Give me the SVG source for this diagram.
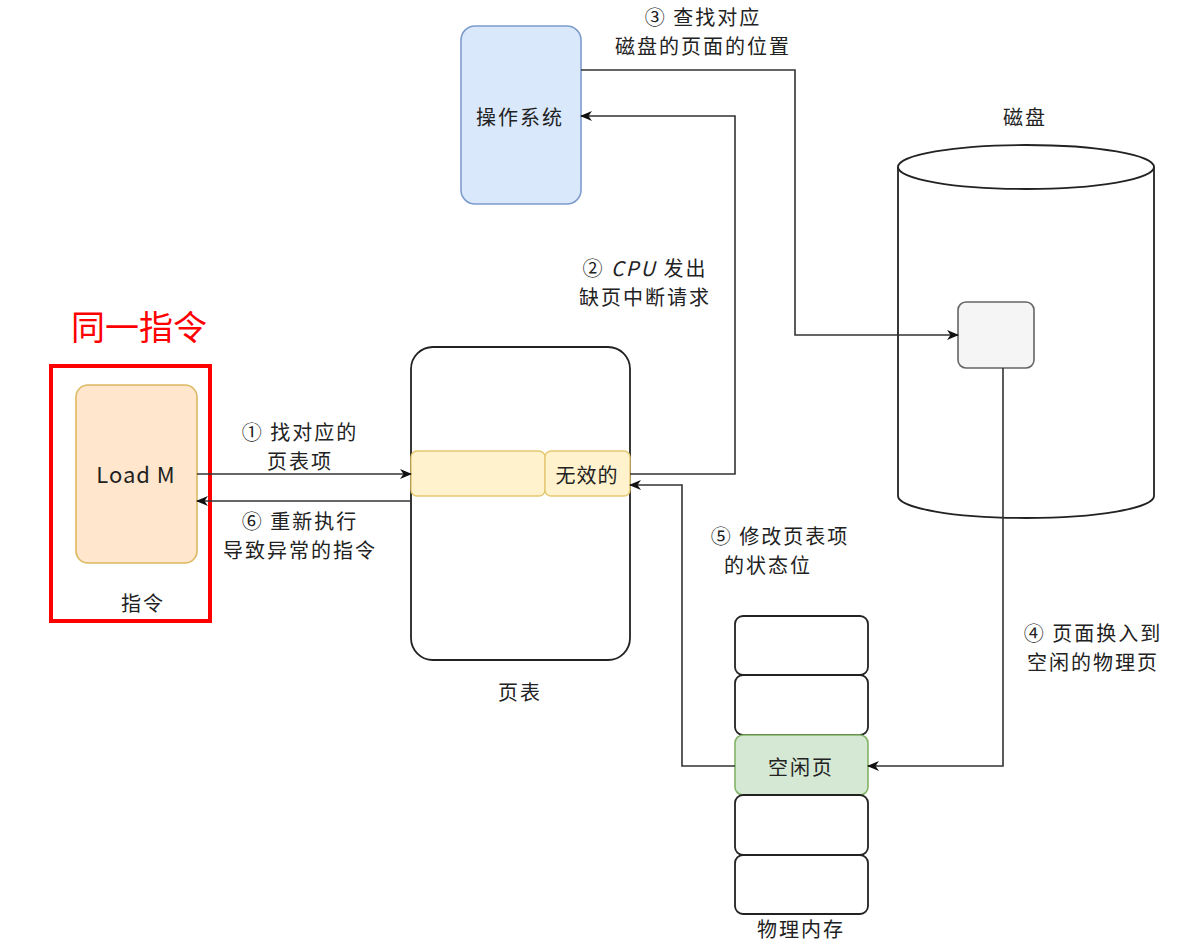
<svg xmlns="http://www.w3.org/2000/svg" width="1204" height="944" viewBox="0 0 1204 944">
<style>
.t{font-family:"Noto Sans CJK SC","Noto Sans",sans-serif;font-size:20px;letter-spacing:2px;fill:#222;text-anchor:middle}
.c{fill:none;stroke:#333;stroke-width:1.6}
.blk{fill:#fff;stroke:#222;stroke-width:1.8}
</style>
<defs>
<marker id="ah" markerWidth="12" markerHeight="10" refX="11" refY="5" orient="auto" markerUnits="userSpaceOnUse">
<path d="M0,0 L12,5 L0,10 L3.5,5 Z" fill="#111"/>
</marker>
</defs>
<rect width="1204" height="944" fill="#fff"/>

<g id="same-instr">
<text x="139" y="340" style="font-family:'Noto Sans CJK SC',sans-serif;font-size:34px;fill:#f00;text-anchor:middle">同一指令</text>
<rect x="51" y="366" width="159" height="255" fill="none" stroke="#f00" stroke-width="4"/>
<text class="t" x="143" y="611">指令</text>
</g>

<g id="load-m">
<rect x="76" y="385" width="121" height="178" rx="12" fill="#ffe6cc" stroke="#dcb860" stroke-width="1.6"/>
<text class="t" x="136" y="483" style="font-size:22px;letter-spacing:1px">Load M</text>
</g>

<g id="page-table">
<rect x="411" y="347" width="219" height="313" rx="22" class="blk"/>
<rect x="411" y="451" width="134" height="45" rx="6" fill="#fff2cc" stroke="#e6c870" stroke-width="1.4"/>
<rect x="545" y="451" width="85" height="45" rx="6" fill="#fff2cc" stroke="#e6c870" stroke-width="1.4"/>
<text class="t" x="587" y="483" style="letter-spacing:1px">无效的</text>
<text class="t" x="520" y="700">页表</text>
</g>

<g id="os">
<rect x="461" y="26" width="120" height="178" rx="14" fill="#dae8fc" stroke="#7d9ccc" stroke-width="1.6"/>
<text class="t" x="520" y="125">操作系统</text>
</g>

<g id="disk">
<text class="t" x="1025" y="125">磁盘</text>
<path d="M898,167 L898,496 A128,22 0 0 0 1154,496 L1154,167" class="blk"/>
<ellipse cx="1026" cy="167" rx="128" ry="22" class="blk"/>
<rect x="958" y="302" width="76" height="66" rx="8" fill="#f5f5f5" stroke="#666" stroke-width="1.6"/>
</g>

<g id="memory">
<rect x="735" y="616" width="133" height="59" rx="8" class="blk"/>
<rect x="735" y="675" width="133" height="60" rx="8" class="blk"/>
<rect x="735" y="735" width="133" height="60" rx="8" fill="#d5e8d4" stroke="#82b366" stroke-width="1.6"/>
<rect x="735" y="795" width="133" height="60" rx="8" class="blk"/>
<rect x="735" y="855" width="133" height="59" rx="8" class="blk"/>
<text class="t" x="801" y="775">空闲页</text>
<text class="t" x="801" y="937">物理内存</text>
</g>

<g id="connectors">
<path class="c" d="M197,474 L411,474" marker-end="url(#ah)"/>
<path class="c" d="M411,501 L197,501" marker-end="url(#ah)"/>
<path class="c" d="M630,474 L735,474 L735,116 L581,116" marker-end="url(#ah)"/>
<path class="c" d="M581,70 L795,70 L795,335 L958,335" marker-end="url(#ah)"/>
<path class="c" d="M1003,368 L1003,766 L868,766" marker-end="url(#ah)"/>
<path class="c" d="M735,766 L682,766 L682,485 L630,485" marker-end="url(#ah)"/>
</g>

<g id="labels">
<text class="t" x="300" y="440">① 找对应的</text>
<text class="t" x="300" y="469">页表项</text>
<text class="t" x="300" y="529">⑥ 重新执行</text>
<text class="t" x="300" y="558">导致异常的指令</text>
<text class="t" x="645" y="276">② <tspan font-style="italic">CPU</tspan> 发出</text>
<text class="t" x="645" y="305">缺页中断请求</text>
<text class="t" x="703" y="25">③ 查找对应</text>
<text class="t" x="703" y="54">磁盘的页面的位置</text>
<text class="t" x="1093" y="641">④ 页面换入到</text>
<text class="t" x="1093" y="670">空闲的物理页</text>
<text class="t" x="780" y="544">⑤ 修改页表项</text>
<text class="t" x="768" y="573">的状态位</text>
</g>
</svg>
